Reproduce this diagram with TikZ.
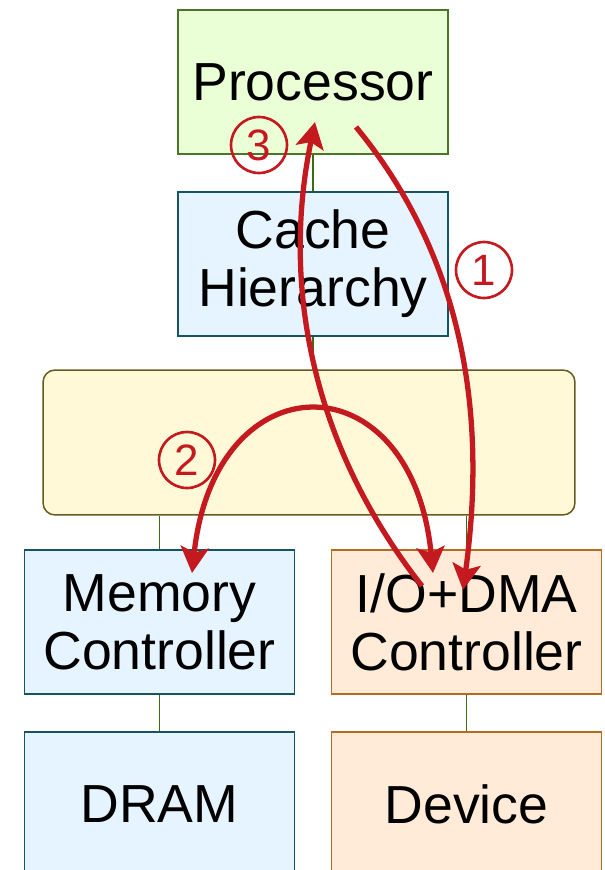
\documentclass[tikz,border=0pt]{standalone}
\usepackage{fontspec}
\setmainfont{Liberation Sans}
\usetikzlibrary{positioning,arrows.meta}
\definecolor{procfill}{HTML}{EBFFD7}
\definecolor{procdraw}{HTML}{4B7428}
\definecolor{memfill}{HTML}{E6F4FF}
\definecolor{memdraw}{HTML}{175463}
\definecolor{busfill}{HTML}{FFF9D8}
\definecolor{busdraw}{HTML}{665A1E}
\definecolor{iofill}{HTML}{FFEBD7}
\definecolor{iodraw}{HTML}{B46B20}
\definecolor{linkcol}{HTML}{3D6A14}
\definecolor{flowred}{HTML}{C4191E}
\def\boxsep{0.73cm}

\begin{document}
\begin{tikzpicture}[x=0.02cm,y=-0.02cm, node distance=\boxsep]
    \tikzstyle{unit}=[rectangle, draw, line width=0.85pt, minimum width=5.4cm, minimum height=2.88cm, inner sep=0pt, align=center, font=\fontsize{30.5}{33}\selectfont]
    \tikzstyle{proc unit}=[unit, fill=procfill, draw=procdraw];
    \tikzstyle{mem unit}=[unit, fill=memfill, draw=memdraw];
    \tikzstyle{io unit}=[unit, fill=iofill, draw=iodraw];
    \tikzstyle{link}=[draw=linkcol, line width=0.8pt]
    \tikzstyle{flow}=[draw=flowred, line width=3pt, -{Stealth[length=0.52cm,width=0.56cm,inset=0.11cm]}]
    \tikzstyle{num label}=[circle, draw=flowred, line width=1.5pt, text=flowred, minimum size=1.12cm, inner sep=0pt, font=\fontsize{25}{25}\selectfont]

    \useasboundingbox (0,0) rectangle (605,870);

    % Draw the processor side
    \node[proc unit] (P) at (313,82) {Processor};
    \node[mem unit, below=of P] (C) {Cache\\Hierarchy};

    % Draw the bus
    \node[rectangle, draw=busdraw, fill=busfill, line width=0.85pt, rounded corners=0.24cm, minimum width=10.64cm, minimum height=2.9cm] (B) at (309,442.5) {};

    % Draw the controllers and what hangs below them
    \node[mem unit] (MC) at (159.5,622) {Memory\\Controller};
    \node[io unit] (IO) at (466.5,622) {I/O+DMA\\Controller};
    \node[mem unit, below=of MC] (D) {DRAM};
    \node[io unit, below=of IO] (Dev) {Device};

    % Connect the boxes
    \draw[link] (P) -- (C);
    \draw[link] (C.south) -- (C.south |- B.north);
    \draw[link] (MC.north) -- (MC.north |- B.south);
    \draw[link] (IO.north) -- (IO.north |- B.south);
    \draw[link] (MC) -- (D);
    \draw[link] (IO) -- (Dev);

    % End points of the transfers
    \coordinate (S-1) at (356,127);
    \coordinate (E-1) at (463,590);
    \coordinate (S-2) at (192,573);
    \coordinate (E-2) at (433,573);
    \coordinate (S-3) at (422,586);
    \coordinate (E-3) at (315,122);

    % Draw the transfers
    \draw[flow] (S-1) .. controls (445,235) and (492,380) .. (E-1);
    \draw[flow, {Stealth[length=0.52cm,width=0.56cm,inset=0.11cm]}-{Stealth[length=0.52cm,width=0.56cm,inset=0.11cm]}] (S-2) .. controls (215,358) and (412,358) .. (E-2);
    \draw[flow] (S-3) .. controls (315,450) and (280,290) .. (E-3);

    % Number the steps
    \node[num label] (N-1) at (484,270) {1};
    \node[num label] (N-2) at (187,460) {2};
    \node[num label] (N-3) at (259,145) {3};
\end{tikzpicture}
\end{document}
